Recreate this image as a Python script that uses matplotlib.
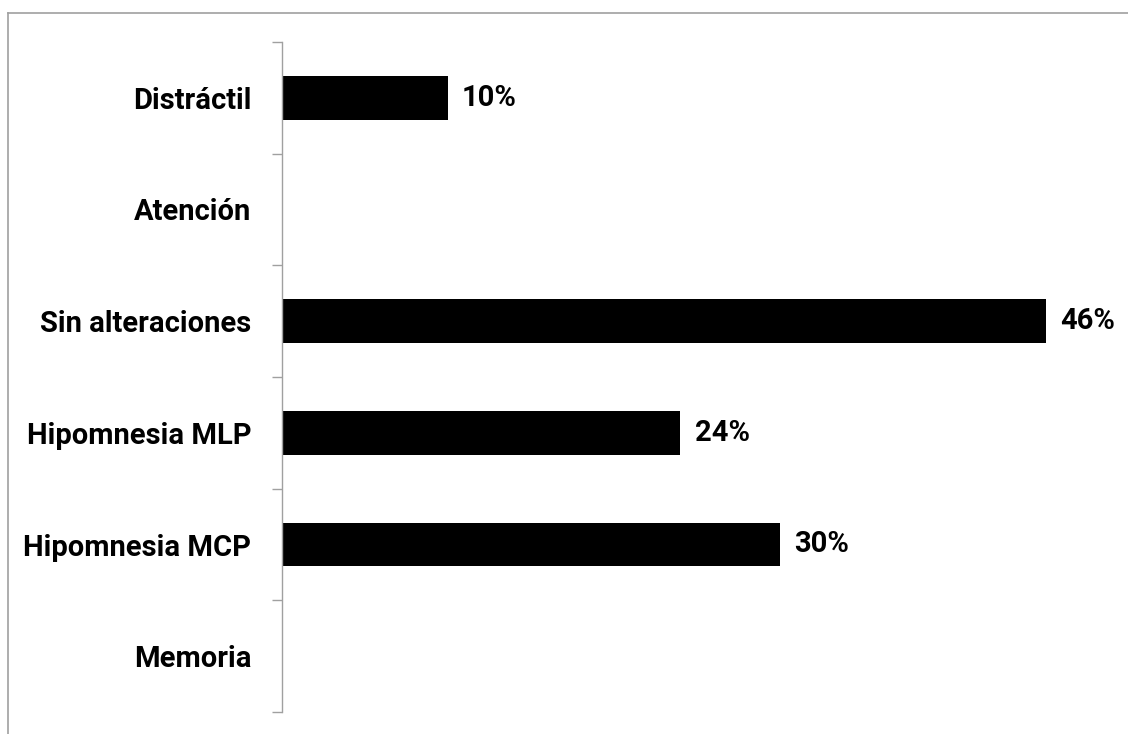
import matplotlib
matplotlib.use("Agg")
import matplotlib.pyplot as plt
from matplotlib.lines import Line2D
import numpy as np

categories = ["Memoria", "Hipomnesia MCP", "Hipomnesia MLP", "Sin alteraciones", "Atención", "Distráctil"]
values = [None, 30, 24, 46, None, 10]
labels = ["", "30%", "24%", "46%", "", "10%"]

plt.rcParams['font.family'] = ['Roboto', 'DejaVu Sans']

fig = plt.figure(figsize=(11.28, 7.34), dpi=100)
ax = fig.add_axes([282/1128, 22/734, 830/1128, 670/734])

y = np.arange(len(categories))
vals = [v if v is not None else 0 for v in values]
bars = ax.barh(y, vals, height=0.39, color="black")
for yi, v, lab in zip(y, vals, labels):
    if lab:
        ax.text(v + 0.85, yi, lab, va="center", ha="left", fontsize=21, fontweight="bold")

ax.set_xlim(0, 50)
ax.set_ylim(-0.5, len(categories) - 0.5)
ax.set_yticks(y)
ax.set_yticklabels(categories, fontsize=21, fontweight="bold")
ax.set_yticks(np.arange(-0.5, len(categories)), minor=True)
ax.tick_params(axis="y", which="major", length=0, pad=22)
ax.tick_params(axis="y", which="minor", length=7, width=1, color="#a0a0a0")
ax.set_xticks([])
for s in ["top", "right", "bottom"]:
    ax.spines[s].set_visible(False)
ax.spines["left"].set_color("#a0a0a0")
ax.spines["left"].set_linewidth(1)

fig.add_artist(Line2D([8/1128, 1], [1 - 12.5/734, 1 - 12.5/734], transform=fig.transFigure, color="#a0a0a0", lw=1.2))
fig.add_artist(Line2D([8/1128, 8/1128], [0, 1 - 12.5/734], transform=fig.transFigure, color="#a0a0a0", lw=1.2))

fig.savefig("out.png", dpi=100)
